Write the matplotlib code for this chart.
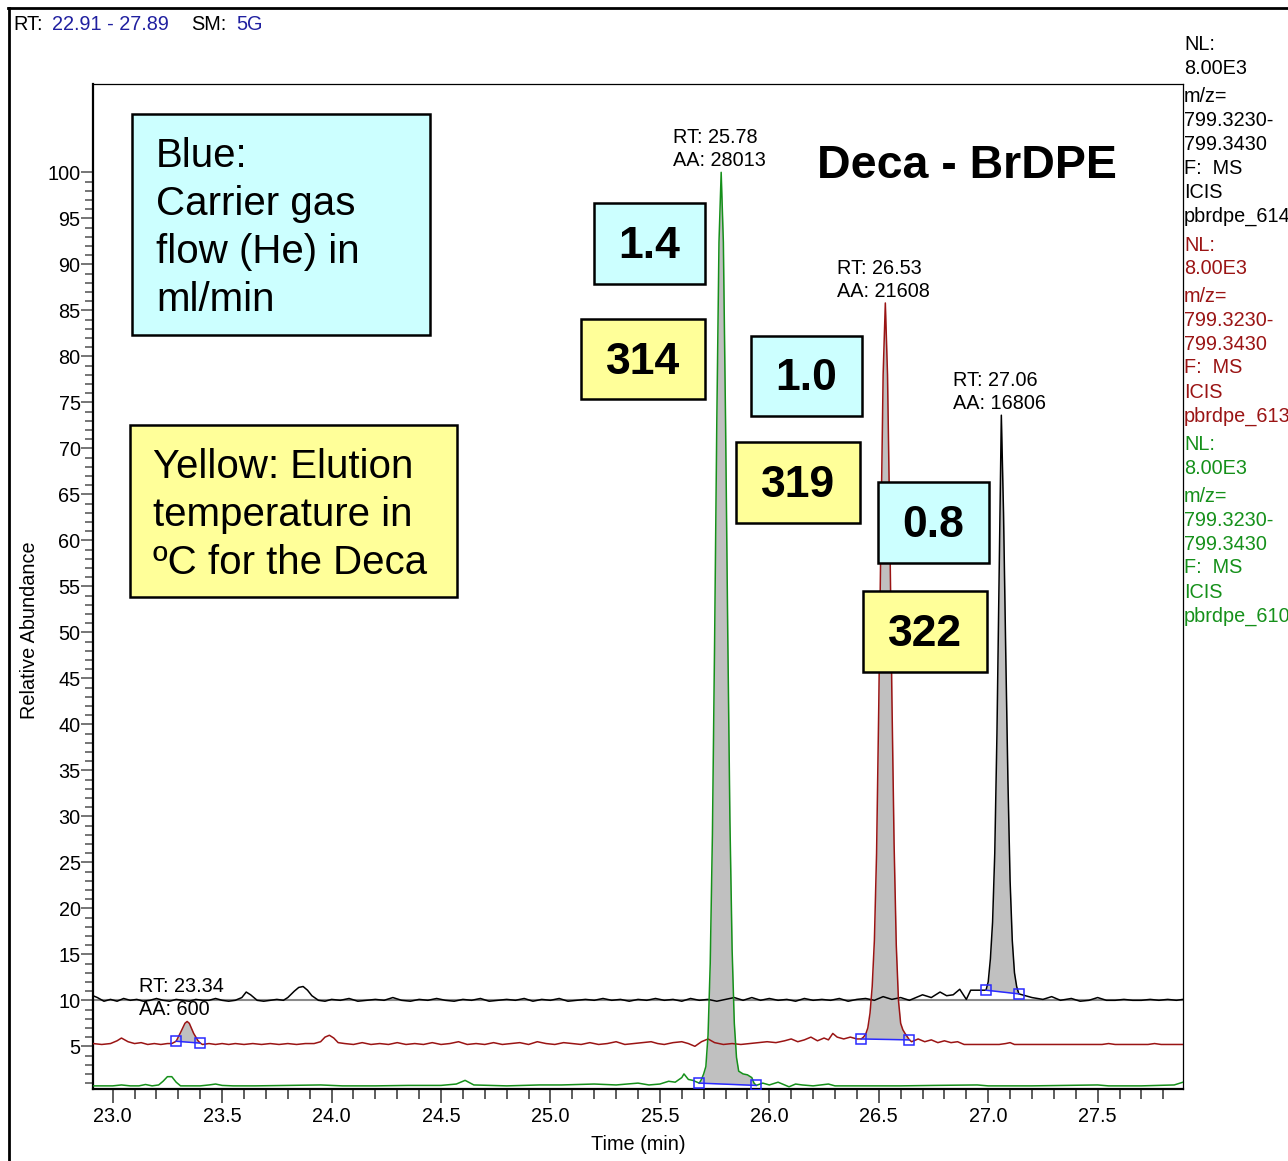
import numpy as np
import matplotlib.pyplot as plt
from matplotlib.patches import Rectangle
from matplotlib.lines import Line2D
from matplotlib.ticker import FixedLocator, MultipleLocator

plt.rcParams['font.family'] = ['Liberation Sans', 'DejaVu Sans']

W, H = 1288, 1161

# --- traces: time (min) / relative abundance (with display offsets) ---
black_t = [22.91, 22.93, 22.96, 22.99, 23.02, 23.05, 23.08, 23.11, 23.14, 23.17, 23.20, 23.23, 23.26,
           23.29, 23.32, 23.35, 23.38, 23.41, 23.44, 23.47, 23.50, 23.53, 23.56, 23.59, 23.61, 23.63,
           23.66, 23.69, 23.72, 23.75, 23.78, 23.80, 23.83, 23.85, 23.87, 23.89, 23.91, 23.94, 23.97,
           24.00, 24.04, 24.08, 24.12, 24.16, 24.20, 24.24, 24.28, 24.32, 24.36, 24.40, 24.44, 24.48,
           24.52, 24.56, 24.60, 24.64, 24.68, 24.72, 24.76, 24.80, 24.84, 24.88, 24.92, 24.96, 25.00,
           25.04, 25.08, 25.12, 25.16, 25.20, 25.24, 25.28, 25.32, 25.36, 25.40, 25.44, 25.48, 25.52,
           25.56, 25.60, 25.64, 25.68, 25.72, 25.76, 25.80, 25.84, 25.88, 25.92, 25.96, 26.00, 26.04,
           26.08, 26.12, 26.16, 26.20, 26.24, 26.28, 26.32, 26.36, 26.40, 26.44, 26.48, 26.52, 26.56,
           26.60, 26.64, 26.68, 26.70, 26.74, 26.78, 26.81, 26.84, 26.87, 26.90, 26.92, 26.96, 26.99,
           27.00, 27.01, 27.02, 27.03, 27.04, 27.05, 27.06, 27.07, 27.08, 27.09, 27.10, 27.11, 27.12,
           27.13, 27.14, 27.17, 27.20, 27.25, 27.29, 27.33, 27.38, 27.42, 27.46, 27.50, 27.54, 27.58,
           27.62, 27.66, 27.70, 27.74, 27.78, 27.82, 27.86, 27.89]
black_y = [10.5, 10.3, 9.9, 10.1, 9.9, 10.2, 10.0, 10.1, 9.9, 10.0, 10.2, 10.0, 9.9,
           10.1, 10.0, 9.9, 10.1, 10.0, 10.0, 10.2, 10.0, 9.9, 10.0, 10.3, 10.9, 10.6,
           10.0, 9.9, 10.0, 10.1, 10.0, 10.3, 11.0, 11.4, 11.5, 11.1, 10.5, 10.0, 9.9,
           10.1, 10.0, 10.2, 9.9, 10.0, 10.1, 10.0, 10.3, 10.0, 9.9, 10.1, 10.0, 10.2,
           10.0, 9.9, 10.1, 10.0, 10.2, 9.9, 10.0, 10.1, 10.0, 10.2, 9.9, 10.1, 10.0,
           10.2, 9.9, 10.0, 10.1, 10.0, 10.2, 10.0, 10.1, 9.9, 10.1, 10.0, 10.2, 10.0,
           10.1, 9.9, 10.2, 10.0, 10.1, 9.9, 10.1, 10.3, 10.0, 10.3, 10.0, 10.2, 10.0,
           10.1, 9.9, 10.2, 10.0, 10.1, 10.0, 10.2, 9.9, 10.1, 10.2, 10.0, 10.4, 10.1,
           10.3, 10.0, 10.4, 10.6, 10.3, 10.9, 10.5, 10.6, 11.2, 10.1, 11.1, 11.1, 11.1,
           12.0, 14.5, 18.5, 26.0, 39.0, 56.0, 73.6, 63.0, 48.0, 34.0, 23.0, 16.5, 13.0,
           11.5, 10.7, 10.5, 10.3, 10.1, 10.4, 10.0, 10.2, 9.9, 10.0, 10.3, 10.0, 10.0,
           10.1, 10.0, 10.0, 10.1, 10.0, 10.1, 10.0, 10.1]

red_t = [22.91, 22.95, 22.99, 23.02, 23.04, 23.07, 23.10, 23.13, 23.16, 23.19, 23.22, 23.25, 23.27,
         23.29, 23.31, 23.33, 23.34, 23.35, 23.37, 23.39, 23.40, 23.41, 23.44, 23.47, 23.50, 23.53,
         23.56, 23.60, 23.64, 23.68, 23.72, 23.76, 23.80, 23.84, 23.88, 23.92, 23.95, 23.97, 23.99,
         24.01, 24.03, 24.06, 24.10, 24.14, 24.18, 24.22, 24.26, 24.30, 24.34, 24.38, 24.42, 24.46,
         24.50, 24.54, 24.58, 24.62, 24.66, 24.70, 24.74, 24.78, 24.82, 24.86, 24.90, 24.94, 24.98,
         25.02, 25.06, 25.10, 25.14, 25.18, 25.22, 25.26, 25.30, 25.34, 25.38, 25.42, 25.46, 25.49,
         25.52, 25.56, 25.60, 25.63, 25.66, 25.69, 25.72, 25.75, 25.79, 25.83, 25.87, 25.91, 25.95,
         25.99, 26.03, 26.07, 26.10, 26.13, 26.16, 26.19, 26.22, 26.25, 26.27, 26.29, 26.31, 26.34,
         26.37, 26.40, 26.42, 26.43, 26.44, 26.45, 26.46, 26.47, 26.48, 26.49, 26.50, 26.51, 26.52,
         26.53, 26.54, 26.55, 26.56, 26.57, 26.58, 26.59, 26.60, 26.61, 26.62, 26.64, 26.65, 26.68,
         26.71, 26.74, 26.77, 26.80, 26.83, 26.86, 26.89, 26.93, 26.97, 27.01, 27.05, 27.08, 27.10,
         27.12, 27.17, 27.22, 27.27, 27.32, 27.37, 27.42, 27.47, 27.52, 27.55, 27.58, 27.63, 27.68,
         27.73, 27.76, 27.79, 27.84, 27.89]
red_y = [5.3, 5.2, 5.3, 5.6, 5.9, 5.5, 5.3, 5.4, 5.2, 5.3, 5.2, 5.3, 5.3,
         5.55, 6.5, 7.5, 7.7, 7.5, 6.4, 5.6, 5.35, 5.2, 5.3, 5.2, 5.3, 5.2,
         5.3, 5.2, 5.3, 5.2, 5.3, 5.2, 5.3, 5.2, 5.3, 5.3, 5.5, 6.0, 6.2,
         5.9, 5.4, 5.3, 5.2, 5.4, 5.2, 5.3, 5.2, 5.4, 5.2, 5.3, 5.2, 5.4,
         5.2, 5.3, 5.5, 5.2, 5.3, 5.2, 5.4, 5.2, 5.3, 5.4, 5.2, 5.5, 5.3,
         5.2, 5.4, 5.3, 5.2, 5.4, 5.2, 5.3, 5.5, 5.2, 5.3, 5.4, 5.5, 5.3,
         5.2, 5.4, 5.5, 5.3, 5.0, 5.5, 5.8, 5.4, 5.2, 5.3, 5.2, 5.3, 5.4,
         5.5, 5.4, 5.6, 5.8, 5.5, 5.7, 6.0, 5.6, 5.9, 5.7, 6.4, 6.0, 5.8,
         6.0, 5.8, 5.8, 6.0, 6.3, 7.0, 8.6, 11.5, 16.5, 26.0, 42.0, 61.0, 78.0,
         85.8, 78.0, 62.0, 43.0, 27.0, 16.0, 10.0, 7.5, 6.8, 6.4, 5.7, 5.5, 5.8,
         5.5, 5.7, 5.4, 5.6, 5.4, 5.5, 5.2, 5.2, 5.2, 5.2, 5.2, 5.3, 5.4,
         5.2, 5.2, 5.2, 5.2, 5.2, 5.2, 5.2, 5.2, 5.2, 5.3, 5.2, 5.2, 5.2,
         5.2, 5.3, 5.2, 5.2, 5.2]

green_t = [22.91, 22.95, 23.00, 23.04, 23.08, 23.12, 23.15, 23.18, 23.21, 23.23, 23.25, 23.27, 23.29,
           23.31, 23.35, 23.40, 23.44, 23.47, 23.50, 23.55, 23.65, 23.80, 23.95, 24.05, 24.20, 24.35,
           24.50, 24.57, 24.61, 24.65, 24.80, 24.95, 25.05, 25.20, 25.30, 25.40, 25.45, 25.50, 25.54,
           25.57, 25.60, 25.61, 25.63, 25.65, 25.68, 25.69, 25.70, 25.71, 25.72, 25.73, 25.74, 25.75,
           25.76, 25.77, 25.78, 25.79, 25.80, 25.81, 25.82, 25.83, 25.84, 25.85, 25.86, 25.88, 25.90,
           25.92, 25.93, 25.94, 25.97, 26.00, 26.04, 26.07, 26.09, 26.12, 26.15, 26.20, 26.27, 26.30,
           26.45, 26.60, 26.75, 26.95, 27.00, 27.20, 27.35, 27.50, 27.55, 27.70, 27.85, 27.89]
green_y = [0.7, 0.7, 0.7, 0.8, 0.7, 0.7, 0.85, 0.7, 0.8, 1.2, 1.7, 1.7, 1.1,
           0.7, 0.7, 0.7, 0.8, 0.9, 0.75, 0.7, 0.7, 0.75, 0.8, 0.7, 0.7, 0.75,
           0.75, 0.9, 1.3, 0.8, 0.7, 0.8, 0.8, 0.9, 0.8, 1.0, 0.8, 0.9, 1.2,
           1.1, 1.6, 2.0, 1.4, 1.3, 1.0, 1.4, 2.0, 2.8, 6.2, 14.0, 28.0, 49.0,
           72.8, 92.4, 100.0, 92.4, 73.0, 50.0, 29.5, 15.5, 7.5, 3.8, 2.3, 2.0, 1.9,
           1.6, 1.0, 0.75, 1.0, 0.8, 1.1, 0.8, 0.6, 0.9, 0.8, 0.7, 0.9, 0.7,
           0.7, 0.7, 0.75, 0.8, 0.7, 0.7, 0.75, 0.8, 0.7, 0.7, 0.8, 1.1]

# integrated peaks: (start t, start y, end t, end y, RT, area)
peaks_black = [(26.99, 11.1, 27.14, 10.7, 27.06, 16806)]
peaks_red = [(23.29, 5.55, 23.40, 5.35, 23.34, 600), (26.42, 5.8, 26.64, 5.7, 26.53, 21608)]
peaks_green = [(25.68, 1.0, 25.94, 0.75, 25.78, 28013)]

BLACK, RED, GREEN = '#000000', '#9a1414', '#15901a'
BLUE_MARK = '#2a2aff'
TXT = 14.3


def fx(px):
    return px / W


def fy(py):
    return 1 - py / H


fig = plt.figure(figsize=(W / 100, H / 100), dpi=100)
ax = fig.add_axes([fx(93), fy(1089), 1090 / W, 1005 / H])

ax.axhline(10, color='#8a8a8a', lw=1.5, zorder=1)

for t, y, peaks, col in [(black_t, black_y, peaks_black, BLACK),
                         (red_t, red_y, peaks_red, RED),
                         (green_t, green_y, peaks_green, GREEN)]:
    t = np.array(t)
    y = np.array(y)
    for t0, y0, t1, y1, rt, aa in peaks:
        base = np.interp(t, [t0, t1], [y0, y1])
        ax.fill_between(t, y, base, where=(t >= t0) & (t <= t1), color='#c0c0c0',
                        lw=0, zorder=2)
    ax.plot(t, y, color=col, lw=1.1, zorder=3)
    for t0, y0, t1, y1, rt, aa in peaks:
        ax.plot([t0, t1], [y0, y1], color=BLUE_MARK, lw=1.1, marker='s', ms=7,
                mfc='none', mec=BLUE_MARK, mew=1.1, zorder=4)
        apex = y[np.argmin(np.abs(t - rt))]
        ax.annotate(f'RT: {rt:.2f}\nAA: {aa}', xy=(rt, apex), xytext=(-48, 2),
                    textcoords='offset pixels', ha='left', va='bottom',
                    fontsize=TXT, linespacing=1.28, zorder=5)

ax.set_xlim(22.91, 27.89)
ax.set_ylim(0.36, 109.6)
ax.xaxis.set_major_locator(FixedLocator(np.arange(23.0, 27.51, 0.5)))
ax.xaxis.set_minor_locator(MultipleLocator(0.1))
ax.yaxis.set_major_locator(FixedLocator(range(5, 101, 5)))
ax.yaxis.set_minor_locator(FixedLocator(range(1, 101)))
ax.xaxis.set_major_formatter(plt.FuncFormatter(lambda v, p: f'{v:.1f}'))
ax.tick_params(which='both', direction='out', color='#505050', labelsize=TXT)
ax.tick_params(axis='x', which='major', length=10, width=1.3, pad=3)
ax.tick_params(axis='x', which='minor', length=7, width=1.3)
ax.tick_params(axis='y', which='major', length=9, width=1.1, pad=0)
ax.tick_params(axis='y', which='minor', length=6, width=1.1)
for s in ['top', 'right']:
    ax.spines[s].set_linewidth(0.9)
for s in ['left', 'bottom']:
    ax.spines[s].set_linewidth(1.6)
ax.set_xlabel('Time (min)', fontsize=TXT)
ax.set_ylabel('Relative Abundance', fontsize=TXT)
ax.xaxis.set_label_coords(545 / 1090, -(1135 - 1089) / 1005)
ax.yaxis.set_label_coords(-(93 - 39) / 1090, (1089 - 630) / 1005)

# outer frame
fig.add_artist(Line2D([fx(8.5), fx(8.5)], [fy(7.5), 0], color='black', lw=2))
fig.add_artist(Line2D([fx(7.5), 1], [fy(8), fy(8)], color='black', lw=2))

# header
for s, x, c in [('RT:', 13, BLACK), ('22.91 - 27.89', 52, '#2020a0'),
                ('SM:', 191, BLACK), ('5G', 236, '#2020a0')]:
    fig.text(fx(x), fy(24), s, color=c, fontsize=TXT, ha='left', va='center')

# scan info per trace
info = ['NL:', '8.00E3', 'm/z=', '799.3230-', '799.3430', 'F:  MS', 'ICIS']
offs = [0, 24, 52, 75, 99, 123, 147, 171]
for y0, c, fname in [(45, BLACK, 'pbrdpe_614'), (245, RED, 'pbrdpe_613'),
                     (445, GREEN, 'pbrdpe_610')]:
    for s, o in zip(info + [fname], offs):
        fig.text(fx(1184), fy(y0 + o), s, color=c, fontsize=TXT, ha='left', va='center')

CYAN, YELLOW = '#ccffff', '#ffff99'


def box(x0, y0, x1, y1, fc):
    fig.add_artist(Rectangle((fx(x0), fy(y1)), fx(x1) - fx(x0), fy(y0) - fy(y1),
                             facecolor=fc, edgecolor='black', lw=1.8))


box(132, 114, 430, 335, CYAN)
fig.text(fx(156), fy(228), 'Blue:\nCarrier gas\nflow (He) in\nml/min', fontsize=29,
         ha='left', va='center', linespacing=1.34)
box(130, 425, 457, 597, YELLOW)
fig.text(fx(153), fy(515), 'Yellow: Elution\ntemperature in\n\u00baC for the Deca',
         fontsize=29, ha='left', va='center', linespacing=1.35)

for s, x0, y0, x1, y1, fc in [('1.4', 594, 203, 705, 284, CYAN),
                              ('314', 581, 319, 705, 399, YELLOW),
                              ('1.0', 751, 336, 862, 416, CYAN),
                              ('319', 736, 442, 860, 523, YELLOW),
                              ('0.8', 878, 482, 989, 563, CYAN),
                              ('322', 863, 591, 987, 672, YELLOW)]:
    box(x0, y0, x1, y1, fc)
    fig.text(fx((x0 + x1) / 2), fy((y0 + y1) / 2 + 3), s, fontsize=32, fontweight='bold',
             ha='center', va='center')

fig.text(fx(817), fy(166), 'Deca - BrDPE', fontsize=33.5, fontweight='bold',
         ha='left', va='center')

fig.savefig('out.png', dpi=100)
